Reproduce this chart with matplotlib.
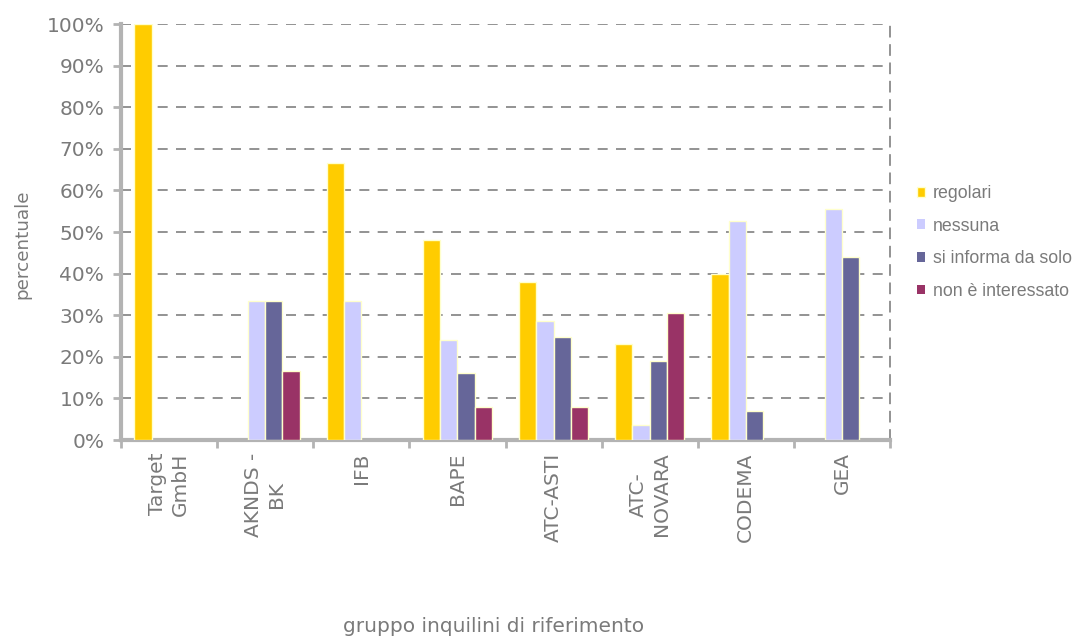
import numpy as np
import matplotlib
matplotlib.use('Agg')
import matplotlib.pyplot as plt
from matplotlib.ticker import FuncFormatter

# Data (percentages)
categories = ['Target\nGmbH', 'AKNDS -\nBK', 'IFB', 'BAPE', 'ATC-ASTI', 'ATC-\nNOVARA', 'CODEMA', 'GEA']
regolari = [100.0, 0.0, 66.7, 48.0, 38.0, 23.0, 40.0, 0.0]
nessuna = [0.0, 33.3, 33.3, 24.0, 28.6, 3.6, 52.7, 55.6]
si_informa = [0.0, 33.3, 0.0, 16.0, 24.8, 19.0, 7.0, 44.0]
non_interessato = [0.0, 16.7, 0.0, 8.0, 8.0, 30.6, 0.0, 0.0]
series_names = ['regolari', 'nessuna', 'si informa da solo', 'non è interessato']

colors = ['#FFCC00', '#CCCCFF', '#666699', '#993366']
text_color = '#7a7a7a'
axis_color = '#b3b3b3'

fig = plt.figure(figsize=(10.82, 6.37), dpi=100)
ax = fig.add_axes([121 / 1082, 1 - 440 / 637, (890 - 121) / 1082, (440 - 24) / 637])

x = np.arange(len(categories))
width = 0.18
series = [regolari, nessuna, si_informa, non_interessato]
handles = []
for i, (vals, color, name) in enumerate(zip(series, colors, series_names)):
    offset = (i - 1.5) * width
    # no outline on empty bars, otherwise a thin line shows on the axis
    edges = ['#FFFFCC' if v > 0 else 'none' for v in vals]
    bars = ax.bar(x + offset, vals, width, color=color, edgecolor=edges,
                  linewidth=1.0, label=name, zorder=3)
    handles.append(bars)

ax.set_xlim(-0.5, len(categories) - 0.5)
ax.set_ylim(0, 100)

# grid and frame
ax.set_yticks(np.arange(0, 101, 10))
ax.yaxis.set_major_formatter(FuncFormatter(lambda v, p: f'{int(v)}%'))
ax.grid(axis='y', color='#808080', linestyle=(0, (6, 5)), linewidth=1.2, zorder=0)
ax.spines['top'].set_visible(False)
ax.spines['right'].set_color('#808080')
ax.spines['right'].set_linestyle((0, (6, 5)))
ax.spines['right'].set_linewidth(1.2)
ax.spines['left'].set_color(axis_color)
ax.spines['left'].set_linewidth(3)
ax.spines['bottom'].set_color(axis_color)
ax.spines['bottom'].set_linewidth(3)

# x ticks at category boundaries, labels at centers
ax.set_xticks(np.arange(-0.5, len(categories), 1.0))
ax.set_xticklabels([])
ax.tick_params(axis='x', which='major', length=6, width=2, color=axis_color)
ax.set_xticks(x, minor=True)
ax.set_xticklabels(categories, minor=True, rotation=90, fontsize=14.5,
                   color=text_color, va='top', ha='center', multialignment='center',
                   linespacing=1.3)
ax.tick_params(axis='x', which='minor', length=0, pad=9)
ax.tick_params(axis='y', length=6, width=2, color=axis_color, labelsize=14.5,
               labelcolor=text_color, pad=6)

ax.set_ylabel('percentuale', fontsize=13.2, color=text_color)
ax.yaxis.set_label_coords(-0.116, 0.471)
fig.text(494 / 1082, 1 - 627 / 637, 'gruppo inquilini di riferimento', fontsize=14.5,
         color=text_color, ha='center', va='center')

leg = ax.legend(handles=handles, loc='upper left', bbox_to_anchor=(917 / 1082, 1 - 185 / 637),
                bbox_transform=fig.transFigure, frameon=False,
                handlelength=0.46, handleheight=0.46, handletextpad=0.45,
                labelspacing=0.88, labelcolor=text_color, borderpad=0, borderaxespad=0,
                prop={'family': 'Liberation Sans', 'size': 12.8})

fig.savefig('out.png', dpi=100)
